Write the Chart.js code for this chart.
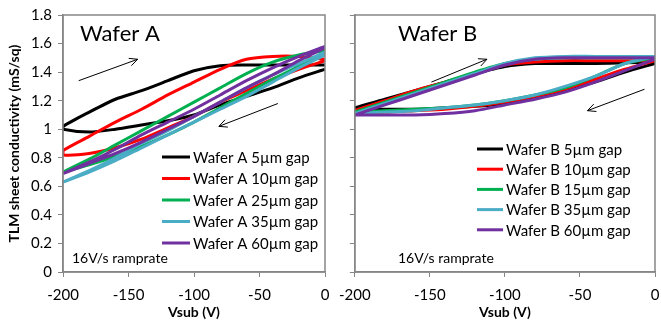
<!DOCTYPE html>
<html>
<head>
<meta charset="utf-8">
<script src="https://cdn.jsdelivr.net/npm/chart.js@4.4.1/dist/chart.umd.min.js"></script>
<style>
  html, body { margin: 0; padding: 0; background: #fff; }
  #wrap { position: relative; width: 661px; height: 325px; }
  .panel { position: absolute; top: 0; height: 325px; }
  #panelA { left: 0; width: 335px; }
  #panelB { left: 330px; width: 331px; }
</style>
</head>
<body>
<div id="wrap">
  <div class="panel" id="panelA"><canvas id="chartA"></canvas></div>
  <div class="panel" id="panelB"><canvas id="chartB"></canvas></div>
</div>
<script>
// Sweep voltages (V), ascending
const vsub = [-200, -180, -160, -140, -120, -100, -80, -60, -40, -20, 0];

// Wafer A: conductivity (mS/sq), up-sweep (-200 -> 0) and down-sweep, both listed at vsub
const labelsA = ['Wafer A 5µm gap', 'Wafer A 10µm gap', 'Wafer A 25µm gap', 'Wafer A 35µm gap', 'Wafer A 60µm gap'];
const upA = [
    [1.02, 1.12, 1.21, 1.27, 1.34, 1.41, 1.445, 1.45, 1.45, 1.45, 1.45],
    [0.85, 0.95, 1.05, 1.14, 1.24, 1.33, 1.42, 1.49, 1.51, 1.51, 1.49],
    [0.70, 0.79, 0.89, 0.99, 1.09, 1.19, 1.29, 1.39, 1.47, 1.52, 1.55],
    [0.63, 0.71, 0.80, 0.90, 0.99, 1.09, 1.19, 1.29, 1.38, 1.46, 1.54],
    [0.69, 0.77, 0.86, 0.96, 1.05, 1.14, 1.24, 1.34, 1.43, 1.51, 1.58]
];
const downA = [
    [1.00, 0.98, 1.00, 1.03, 1.06, 1.10, 1.17, 1.23, 1.29, 1.36, 1.42],
    [0.82, 0.83, 0.87, 0.93, 1.01, 1.09, 1.19, 1.27, 1.35, 1.42, 1.48],
    [0.70, 0.75, 0.81, 0.88, 0.96, 1.05, 1.15, 1.25, 1.35, 1.44, 1.53],
    [0.63, 0.70, 0.78, 0.87, 0.96, 1.05, 1.14, 1.23, 1.33, 1.43, 1.52],
    [0.69, 0.76, 0.83, 0.91, 1.00, 1.09, 1.19, 1.29, 1.38, 1.48, 1.57]
];

// Wafer B
const labelsB = ['Wafer B 5µm gap', 'Wafer B 10µm gap', 'Wafer B 15µm gap', 'Wafer B 35µm gap', 'Wafer B 60µm gap'];
const upB = [
    [1.15, 1.21, 1.27, 1.33, 1.39, 1.44, 1.46, 1.46, 1.46, 1.465, 1.47],
    [1.13, 1.20, 1.27, 1.33, 1.39, 1.45, 1.47, 1.48, 1.48, 1.48, 1.48],
    [1.12, 1.19, 1.26, 1.33, 1.40, 1.46, 1.49, 1.50, 1.50, 1.50, 1.50],
    [1.11, 1.18, 1.25, 1.32, 1.39, 1.46, 1.50, 1.51, 1.51, 1.51, 1.51],
    [1.10, 1.17, 1.24, 1.31, 1.38, 1.45, 1.49, 1.50, 1.50, 1.50, 1.50]
];
const downB = [
    [1.14, 1.14, 1.14, 1.15, 1.16, 1.18, 1.22, 1.27, 1.33, 1.40, 1.46],
    [1.12, 1.12, 1.13, 1.14, 1.16, 1.19, 1.23, 1.28, 1.35, 1.42, 1.48],
    [1.12, 1.13, 1.14, 1.15, 1.17, 1.20, 1.24, 1.29, 1.37, 1.46, 1.50],
    [1.11, 1.12, 1.13, 1.15, 1.17, 1.20, 1.24, 1.30, 1.37, 1.46, 1.51],
    [1.10, 1.10, 1.10, 1.11, 1.13, 1.17, 1.21, 1.26, 1.33, 1.41, 1.49]
];

const xTicks = [-200, -150, -100, -50, 0];
const yTicks = [0, 0.2, 0.4, 0.6, 0.8, 1, 1.2, 1.4, 1.6, 1.8];

const colors = ['#000000', '#ff0000', '#00b050', '#4bacc6', '#7030a0'];
const FONT = "Lato, 'Open Sans', sans-serif";
const AXIS_GREY = '#868686';

// loop: start at 0 V, sweep down to -200 V, then back up to 0 V
function loopPoints(up, down) {
    const pts = [];
    for (let i = vsub.length - 1; i >= 0; i--) pts.push({ x: vsub[i], y: down[i] });
    for (let i = 0; i < vsub.length; i++) pts.push({ x: vsub[i], y: up[i] });
    return pts;
}

function buildDatasets(labels, up, down) {
    return labels.map(function (lab, i) {
        return {
            label: lab,
            data: loopPoints(up[i], down[i]),
            borderColor: colors[i],
            backgroundColor: colors[i],
            borderWidth: 3,
            pointRadius: 0,
            showLine: true,
            tension: 0.25,
            order: labels.length - i
        };
    });
}

function drawArrow(ctx, x1, y1, x2, y2) {
    const ang = Math.atan2(y2 - y1, x2 - x1);
    const h = 9;
    ctx.beginPath();
    ctx.moveTo(x1, y1);
    ctx.lineTo(x2, y2);
    ctx.moveTo(x2 - h * Math.cos(ang - 0.45), y2 - h * Math.sin(ang - 0.45));
    ctx.lineTo(x2, y2);
    ctx.lineTo(x2 - h * Math.cos(ang + 0.45), y2 - h * Math.sin(ang + 0.45));
    ctx.stroke();
}

const panelDecor = {
    id: 'panelDecor',
    afterDatasetsDraw(chart, args, o) {
        const ctx = chart.ctx;
        const a = chart.chartArea;
        const xs = chart.scales.x, ys = chart.scales.y;
        ctx.save();
        // plot frame
        ctx.strokeStyle = AXIS_GREY;
        ctx.lineWidth = 1.5;
        ctx.strokeRect(a.left, a.top, a.right - a.left, a.bottom - a.top);

        // panel title
        ctx.fillStyle = '#000';
        ctx.font = '22px ' + FONT;
        ctx.textBaseline = 'middle';
        ctx.textAlign = 'left';
        ctx.fillText(o.title, o.titleX, 34);

        // ramp rate note
        ctx.font = '14px ' + FONT;
        ctx.fillText('16V/s ramprate', o.noteX, 258);

        // sweep direction arrows
        ctx.strokeStyle = '#000';
        ctx.lineWidth = 1;
        o.arrows.forEach(function (ar) {
            drawArrow(ctx, xs.getPixelForValue(ar[0]), ys.getPixelForValue(ar[1]),
                xs.getPixelForValue(ar[2]), ys.getPixelForValue(ar[3]));
        });

        // legend
        ctx.font = '15px ' + FONT;
        chart.data.datasets.forEach(function (ds, i) {
            const y = o.legY + i * o.legStep;
            ctx.strokeStyle = ds.borderColor;
            ctx.lineWidth = 3;
            ctx.beginPath();
            ctx.moveTo(o.legX, y);
            ctx.lineTo(o.legX + o.legLen, y);
            ctx.stroke();
            ctx.fillStyle = '#000';
            ctx.fillText(ds.label, o.legX + o.legLen + 3, y + 1);
        });
        ctx.restore();
    }
};

function makeChart(id, labels, up, down, yWidth, padRight, showYLabels, decor) {
    return new Chart(document.getElementById(id), {
        type: 'scatter',
        data: { datasets: buildDatasets(labels, up, down) },
        options: {
            responsive: true,
            maintainAspectRatio: false,
            animation: false,
            layout: { padding: { top: 14, right: padRight, left: 0, bottom: 0 } },
            plugins: {
                legend: { display: false },
                tooltip: { enabled: false },
                panelDecor: decor
            },
            scales: {
                x: {
                    type: 'linear',
                    min: -200,
                    max: 0,
                    afterBuildTicks: function (s) { s.ticks = xTicks.map(v => ({ value: v })); },
                    afterFit: function (s) { s.height = 53; s.paddingRight = 0; },
                    ticks: { font: { size: 15, family: FONT }, color: '#000', padding: 9, maxRotation: 0 },
                    grid: { drawOnChartArea: false, tickLength: 5, color: AXIS_GREY },
                    border: { color: AXIS_GREY, width: 1.5 },
                    title: {
                        display: true,
                        text: 'Vsub (V)',
                        font: { size: 14, weight: 'bold', family: FONT },
                        color: '#000',
                        padding: { top: 0, bottom: 4 }
                    }
                },
                y: {
                    type: 'linear',
                    min: 0,
                    max: 1.8,
                    afterBuildTicks: function (s) { s.ticks = yTicks.map(v => ({ value: v })); },
                    afterFit: function (s) { s.width = yWidth; },
                    ticks: {
                        font: { size: 15, family: FONT },
                        color: '#000',
                        padding: 6,
                        callback: function (v) { return showYLabels ? String(Math.round(v * 10) / 10) : ''; }
                    },
                    grid: { drawOnChartArea: false, tickLength: 5, color: AXIS_GREY },
                    border: { color: AXIS_GREY, width: 1.5 },
                    title: {
                        display: showYLabels,
                        text: 'TLM sheet conductivity (mS/sq)',
                        font: { size: 14, weight: 'bold', family: FONT },
                        color: '#000',
                        padding: { top: 6, bottom: 0 }
                    }
                }
            }
        },
        plugins: [panelDecor]
    });
}

document.addEventListener('DOMContentLoaded', function () {
    makeChart('chartA', labelsA, upA, downA, 63, 10, true, {
        title: 'Wafer A', titleX: 80, noteX: 72,
        legX: 162, legLen: 28, legY: 157, legStep: 21.5,
        arrows: [[-188, 1.34, -143, 1.49], [-36, 1.18, -81, 1.02]]
    });
    makeChart('chartB', labelsB, upB, downB, 20, 6, false, {
        title: 'Wafer B', titleX: 68, noteX: 68,
        legX: 147, legLen: 26, legY: 149, legStep: 20.2,
        arrows: [[-149, 1.33, -112, 1.49], [-7, 1.28, -45, 1.13]]
    });
});
</script>
</body>
</html>
